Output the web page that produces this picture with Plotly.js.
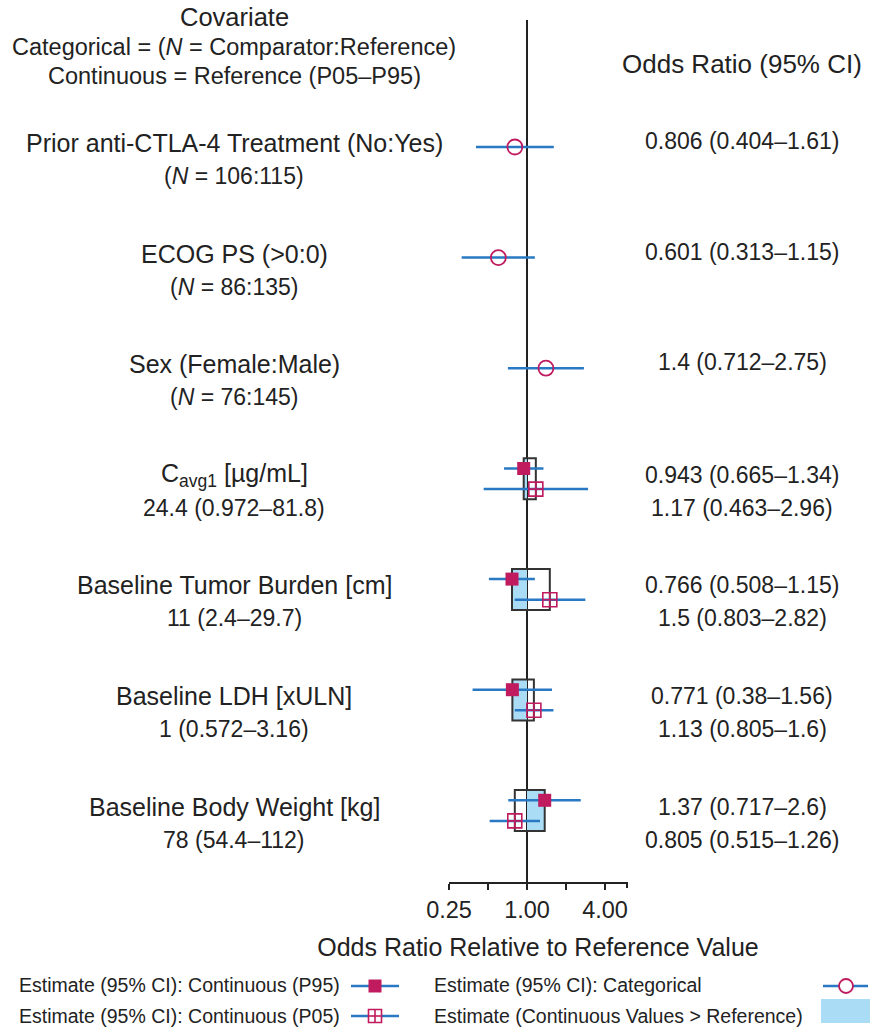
<!DOCTYPE html>
<html>
<head>
<meta charset="utf-8">
<script src="https://cdn.plot.ly/plotly-3.0.1.min.js"></script>
<style>html,body{margin:0;padding:0;background:#fff;}#chart{width:870px;height:1031px;}</style>
</head>
<body>
<div id="chart"></div>
<script>
// ---- Data ----
const catLabels = ['Prior anti-CTLA-4 Treatment (No:Yes)', 'ECOG PS (>0:0)', 'Sex (Female:Male)'];
const catN = ['106:115', '86:135', '76:145'];
const catOR = [0.806, 0.601, 1.4];
const catLo = [0.404, 0.313, 0.712];
const catHi = [1.61, 1.15, 2.75];

const contLabels = ['C<sub>avg1</sub> [µg/mL]', 'Baseline Tumor Burden [cm]', 'Baseline LDH [xULN]', 'Baseline Body Weight [kg]'];
const contRef = ['24.4 (0.972–81.8)', '11 (2.4–29.7)', '1 (0.572–3.16)', '78 (54.4–112)'];
const p95OR = [0.943, 0.766, 0.771, 1.37];
const p95Lo = [0.665, 0.508, 0.38, 0.717];
const p95Hi = [1.34, 1.15, 1.56, 2.6];
const p05OR = [1.17, 1.5, 1.13, 0.805];
const p05Lo = [0.463, 0.803, 0.805, 0.515];
const p05Hi = [2.96, 2.82, 1.6, 1.26];

const tickVals = [0.25, 1, 4];
const tickText = ['0.25', '1.00', '4.00'];
const minorTickVals = [0.5, 2];

const legendLabels = ['Estimate (95% CI): Continuous (P95)', 'Estimate (95% CI): Continuous (P05)',
                      'Estimate (95% CI): Categorical', 'Estimate (Continuous Values > Reference)'];

// ---- Styling ----
const CRIMSON = '#BF1B5E';
const BLUE = '#2878C3';
const FILL = '#AADDF5';
const INK = '#222222';
const FONT = 'Liberation Sans, Arial, Helvetica, sans-serif';

const L = 449, R = 627, T = 20, B = 882, W = 870, H = 1031;
const xMax = 0.25 * Math.pow(2, (R - L) / 39);
const rowPx = 110.6, row0Px = 147;
const yTop = (T - row0Px) / rowPx, yBot = (B - row0Px) / rowPx;
const off = 10.3 / rowPx, boxHalf = 20.5 / rowPx;
const px2x = px => (px - L) / (R - L);
const py2y = py => (B - py) / (B - T);

const nCat = catLabels.length;
const contRows = contLabels.map((_, i) => nCat + i);
const fmt = (e, lo, hi) => `${e} (${lo}–${hi})`;

const errStyle = (e, lo, hi) => ({
  type: 'data', symmetric: false,
  array: e.map((v, i) => hi[i] - v),
  arrayminus: e.map((v, i) => v - lo[i]),
  width: 0, thickness: 2.5, color: BLUE
});

const traces = [
  {
    x: catOR, y: catLabels.map((_, i) => i), type: 'scatter', mode: 'markers',
    marker: {symbol: 'circle-open', size: 15, color: CRIMSON, line: {width: 1.8, color: CRIMSON}},
    error_x: errStyle(catOR, catLo, catHi), showlegend: false, hoverinfo: 'x'
  },
  {
    x: p95OR, y: contRows.map(r => r - off), type: 'scatter', mode: 'markers',
    marker: {symbol: 'square', size: 13, color: CRIMSON},
    error_x: errStyle(p95OR, p95Lo, p95Hi), showlegend: false, hoverinfo: 'x'
  },
  {
    x: p05OR, y: contRows.map(r => r + off), type: 'scatter', mode: 'markers',
    marker: {symbol: 'square-cross-open', size: 14, color: CRIMSON, line: {width: 1.6, color: CRIMSON}},
    error_x: errStyle(p05OR, p05Lo, p05Hi), showlegend: false, hoverinfo: 'x'
  }
];

const shapes = [];
// blue fill: from reference (1) to P95 estimate
contRows.forEach((r, i) => {
  shapes.push({type: 'rect', xref: 'x', yref: 'y', layer: 'below',
    x0: Math.min(1, p95OR[i]), x1: Math.max(1, p95OR[i]), y0: r - boxHalf, y1: r + boxHalf,
    fillcolor: FILL, line: {width: 0}});
});
// reference line
shapes.push({type: 'line', xref: 'x', yref: 'paper', layer: 'below', x0: 1, x1: 1, y0: 0, y1: 1,
  line: {color: INK, width: 2}});
// outline boxes between the two estimates
contRows.forEach((r, i) => {
  shapes.push({type: 'rect', xref: 'x', yref: 'y', layer: 'below',
    x0: Math.min(p95OR[i], p05OR[i]), x1: Math.max(p95OR[i], p05OR[i]), y0: r - boxHalf, y1: r + boxHalf,
    fillcolor: 'rgba(0,0,0,0)', line: {color: '#333333', width: 2}});
});
// end tick of the axis
shapes.push({type: 'line', xref: 'paper', yref: 'paper', x0: 1, x1: 1, y0: 0, y1: py2y(B + 6),
  line: {color: INK, width: 2}});

// legend samples (pixel positions)
const lgRows = [986, 1016];
function hline(x0, x1, y) {
  shapes.push({type: 'line', xref: 'paper', yref: 'paper', x0: px2x(x0), x1: px2x(x1), y0: py2y(y), y1: py2y(y),
    line: {color: BLUE, width: 2.5}});
}
function rectPx(x0, x1, y0, y1, fill, lc, lw) {
  shapes.push({type: 'rect', xref: 'paper', yref: 'paper', x0: px2x(x0), x1: px2x(x1), y0: py2y(y0), y1: py2y(y1),
    fillcolor: fill, line: {color: lc, width: lw}});
}
hline(351, 399, lgRows[0]);
rectPx(368.5, 381.5, lgRows[0] - 6.5, lgRows[0] + 6.5, CRIMSON, CRIMSON, 0);
hline(351, 399, lgRows[1]);
rectPx(368.5, 381.5, lgRows[1] - 6.5, lgRows[1] + 6.5, '#ffffff', CRIMSON, 1.6);
shapes.push({type: 'line', xref: 'paper', yref: 'paper', x0: px2x(375), x1: px2x(375), y0: py2y(lgRows[1] - 6.5), y1: py2y(lgRows[1] + 6.5), line: {color: CRIMSON, width: 1.6}});
shapes.push({type: 'line', xref: 'paper', yref: 'paper', x0: px2x(368.5), x1: px2x(381.5), y0: py2y(lgRows[1]), y1: py2y(lgRows[1]), line: {color: CRIMSON, width: 1.6}});
hline(823, 868, lgRows[0]);
shapes.push({type: 'circle', xref: 'paper', yref: 'paper', x0: px2x(839), x1: px2x(853), y0: py2y(lgRows[0] - 7), y1: py2y(lgRows[0] + 7),
  fillcolor: '#ffffff', line: {color: CRIMSON, width: 1.8}});
rectPx(821, 870, 999, 1023, FILL, FILL, 0);

// ---- Annotations ----
const ann = [];
const txt = (text, xp, yval, yref, size, anchor) => ann.push({
  text: text, xref: 'paper', yref: yref, x: xp, y: yval, xanchor: anchor || 'center', yanchor: 'middle',
  showarrow: false, font: {family: FONT, size: size, color: INK}
});
const labelX = px2x(234), orX = px2x(742);
const l1 = -4 / rowPx, l2 = 29 / rowPx;

// headers
txt('Covariate', labelX, py2y(17), 'paper', 25.5);
txt('Categorical = (<i>N</i> = Comparator:Reference)', labelX, py2y(47), 'paper', 23.5);
txt('Continuous = Reference (P05–P95)', labelX, py2y(76), 'paper', 23.5);
txt('Odds Ratio (95% CI)', orX, py2y(64), 'paper', 26);

catLabels.forEach((lab, i) => {
  txt(lab, labelX, i + l1, 'y', 25);
  txt(`(<i>N</i> = ${catN[i]})`, labelX, i + l2, 'y', 23);
  txt(fmt(catOR[i], catLo[i], catHi[i]), orX, i - 6 / rowPx, 'y', 23);
});
contLabels.forEach((lab, i) => {
  const r = contRows[i];
  txt(lab, labelX, r + l1, 'y', 25);
  txt(contRef[i], labelX, r + l2, 'y', 23);
  txt(fmt(p95OR[i], p95Lo[i], p95Hi[i]), orX, r + l1, 'y', 23);
  txt(fmt(p05OR[i], p05Lo[i], p05Hi[i]), orX, r + l2, 'y', 23);
});

// legend text
txt(legendLabels[0], px2x(17), py2y(lgRows[0] - 1), 'paper', 19.5, 'left');
txt(legendLabels[1], px2x(17), py2y(lgRows[1]), 'paper', 19.5, 'left');
txt(legendLabels[2], px2x(432), py2y(lgRows[0] - 1), 'paper', 19.5, 'left');
txt(legendLabels[3], px2x(432), py2y(lgRows[1]), 'paper', 19.5, 'left');

const layout = {
  width: W, height: H,
  margin: {l: L, r: W - R, t: T, b: H - B, pad: 0},
  paper_bgcolor: '#ffffff', plot_bgcolor: '#ffffff',
  showlegend: false,
  xaxis: {
    type: 'log', range: [Math.log10(0.25), Math.log10(xMax)],
    tickmode: 'array', tickvals: tickVals, ticktext: tickText,
    minor: {tickmode: 'array', tickvals: minorTickVals, ticks: 'outside', ticklen: 6, tickwidth: 2, tickcolor: INK, showgrid: false},
    showline: true, linecolor: INK, linewidth: 2,
    ticks: 'outside', ticklen: 6, tickwidth: 2, tickcolor: INK,
    showgrid: false, zeroline: false,
    tickfont: {family: FONT, size: 23.5, color: INK},
    title: {text: 'Odds Ratio Relative to Reference Value', font: {family: FONT, size: 25, color: INK}, standoff: 16},
    fixedrange: true
  },
  yaxis: {
    range: [yBot, yTop], visible: false, showgrid: false, zeroline: false, fixedrange: true
  },
  shapes: shapes,
  annotations: ann
};

Plotly.newPlot('chart', traces, layout, {displayModeBar: false, staticPlot: true});
</script>
</body>
</html>
